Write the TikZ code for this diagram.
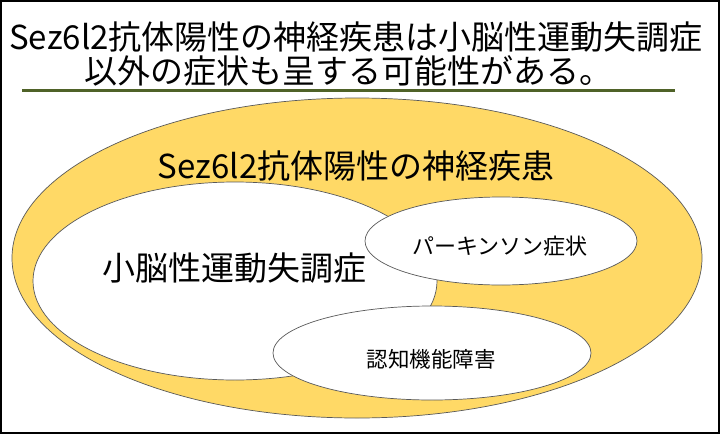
\documentclass[tikz,border=0pt]{standalone}
\usepackage{fontspec}
\setmainfont{Noto Sans CJK JP}
\usetikzlibrary{shapes.geometric}
\definecolor{gold}{HTML}{FFD966}
\definecolor{darkolive}{HTML}{4F6228}
\definecolor{edgegray}{HTML}{595959}
\begin{document}
\begin{tikzpicture}[x=1pt,y=-1pt,
  bigtext/.style={inner sep=0pt, font=\fontsize{33}{40}\selectfont},
  smalltext/.style={inner sep=0pt, font=\fontsize{21.5}{26}\selectfont},
  blob/.style={ellipse, draw=edgegray, line width=0.7pt, inner sep=0pt, outer sep=0pt},
]
\useasboundingbox (0,0) rectangle (720,434);
\fill[white] (0,0) rectangle (720,434);
\draw[line width=1.5pt] (1,1) rectangle (719,433);
\node[bigtext] (title1) at (356,37) {Sez6l2抗体陽性の神経疾患は小脳性運動失調症};
\node[bigtext] (title2) at (348,71) {以外の症状も呈する可能性がある。};
\coordinate (ruleL) at (22,90);
\coordinate (ruleR) at (675,90);
\draw[darkolive, line width=3pt] (ruleL) -- (ruleR);
\node[blob, fill=gold, minimum width=690pt, minimum height=320pt] (disease) at (357,258) {};
\node[bigtext] (diseaselabel) at (356,166) {Sez6l2抗体陽性の神経疾患};
\node[blob, fill=white, minimum width=404pt, minimum height=198pt] (ataxia) at (235,281) {};
\node[bigtext] (ataxialabel) at (234,268) {小脳性運動失調症};
\node[blob, fill=white, minimum width=272pt, minimum height=88pt] (parkinson) at (501,241) {};
\node[smalltext, font=\fontsize{22}{26}\selectfont] (parkinsonlabel) at (500,246) {パーキンソン症状};
\node[blob, fill=white, minimum width=318pt, minimum height=94pt] (cognitive) at (432,353) {};
\node[smalltext] (cognitivelabel) at (431,359) {認知機能障害};
\end{tikzpicture}
\end{document}
